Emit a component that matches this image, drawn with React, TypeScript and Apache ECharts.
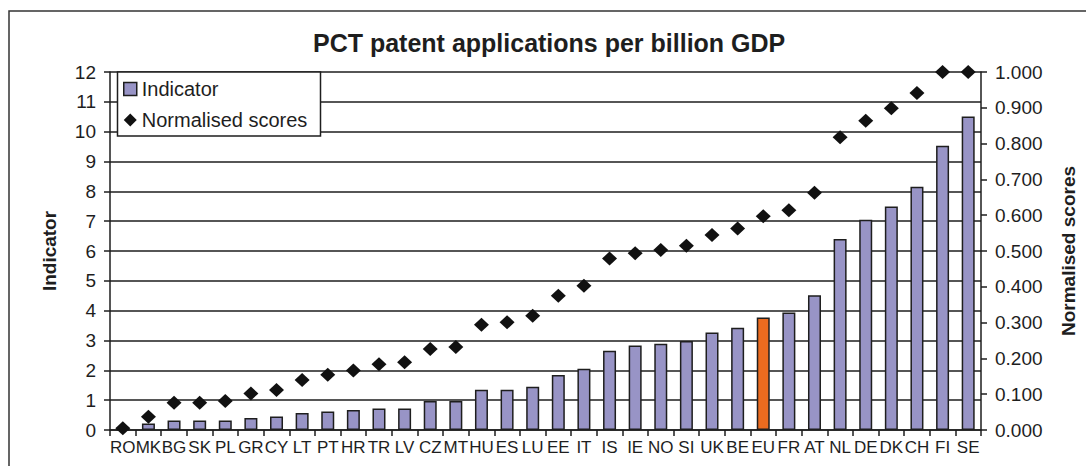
import React, { useEffect, useRef } from "react";
import * as echarts from "echarts";

const categories = ["RO","MK","BG","SK","PL","GR","CY","LT","PT","HR","TR","LV","CZ","MT","HU","ES","LU","EE","IT","IS","IE","NO","SI","UK","BE","EU","FR","AT","NL","DE","DK","CH","FI","SE"];
const indicator = [0.02,0.22,0.32,0.32,0.32,0.4,0.45,0.57,0.62,0.67,0.72,0.72,0.97,0.97,1.35,1.35,1.45,1.84,2.05,2.66,2.83,2.89,2.98,3.27,3.43,3.77,3.94,4.52,6.4,7.05,7.49,8.15,9.53,10.51];
const normalised = [0.005,0.037,0.076,0.076,0.081,0.102,0.112,0.14,0.154,0.166,0.184,0.189,0.226,0.232,0.294,0.301,0.319,0.375,0.403,0.479,0.494,0.503,0.515,0.545,0.563,0.597,0.614,0.663,0.818,0.864,0.899,0.941,1.0,1.0];
const leftTicks = { min: 0, max: 12, interval: 1 };
const rightTicks = { min: 0, max: 1, interval: 0.1 };
const highlight = "EU";

const FONT = "Liberation Sans, Arial, sans-serif";
const BAR = "#9894C6";
const ORANGE = "#EB6B1F";
const INK = "#1e1e1e";

export default function App() {
  const ref = useRef<HTMLDivElement>(null);
  useEffect(() => {
    if (!ref.current) return;
    const chart = echarts.init(ref.current, null, { renderer: "svg" });
    chart.setOption({
      animation: false,
      backgroundColor: "#ffffff",
      textStyle: { fontFamily: FONT, color: INK },
      title: {
        text: "PCT patent applications per billion GDP",
        left: 313,
        top: 30,
        padding: 0,
        textStyle: { fontFamily: FONT, fontSize: 25, fontWeight: "bold", color: INK },
      },
      graphic: [
        {
          type: "rect",
          shape: { x: 9, y: 11, width: 1200, height: 600 },
          style: { fill: "none", stroke: "#333", lineWidth: 1.5 },
          silent: true,
          z: 0,
        },
        {
          type: "rect",
          shape: { x: 117.5, y: 72, width: 203, height: 64 },
          style: { fill: "#fff", stroke: INK, lineWidth: 1.5 },
          silent: true,
          z: 9,
        },
      ],
      legend: {
        orient: "vertical",
        left: 123,
        top: 79,
        padding: 0,
        itemGap: 11,
        itemWidth: 13,
        itemHeight: 13,
        textStyle: { fontFamily: FONT, fontSize: 20, color: INK },
        z: 10,
        data: [
          { name: "Indicator", icon: "rect", itemStyle: { color: BAR, borderColor: INK, borderWidth: 1.5 } },
          { name: "Normalised scores", icon: "diamond", itemStyle: { color: "#111", borderWidth: 0, opacity: 1 } },
        ],
      },
      grid: { left: 110, right: 100, top: 72, bottom: 36, containLabel: false },
      xAxis: {
        type: "category",
        data: categories,
        boundaryGap: true,
        axisLine: { lineStyle: { color: INK, width: 1.5 } },
        axisTick: { show: true, length: 6, inside: false, lineStyle: { color: INK, width: 1.5 } },
        axisLabel: { interval: 0, fontSize: 17, color: INK, fontFamily: FONT, margin: 9 },
        splitLine: { show: false },
      },
      yAxis: [
        {
          type: "value",
          min: leftTicks.min,
          max: leftTicks.max,
          interval: leftTicks.interval,
          position: "left",
          name: "Indicator",
          nameLocation: "middle",
          nameRotate: 90,
          nameGap: 51,
          nameTextStyle: { fontFamily: FONT, fontSize: 19, fontWeight: "bold", color: INK },
          axisLine: { show: true, lineStyle: { color: INK, width: 1.5 } },
          axisTick: { show: true, length: 6, lineStyle: { color: INK, width: 1.5 } },
          axisLabel: { fontSize: 19, color: INK, fontFamily: FONT, margin: 14 },
          splitLine: { show: true, lineStyle: { color: INK, width: 1.5 } },
        },
        {
          type: "value",
          min: rightTicks.min,
          max: rightTicks.max,
          interval: rightTicks.interval,
          position: "right",
          name: "Normalised scores",
          nameLocation: "middle",
          nameRotate: 90,
          nameGap: 78,
          nameTextStyle: { fontFamily: FONT, fontSize: 19, fontWeight: "bold", color: INK },
          axisLine: { show: true, lineStyle: { color: INK, width: 1.5 } },
          axisTick: { show: true, length: 6, lineStyle: { color: INK, width: 1.5 } },
          axisLabel: {
            fontSize: 19,
            color: INK,
            fontFamily: FONT,
            margin: 14,
            formatter: (v: number) => v.toFixed(3),
          },
          splitLine: { show: false },
        },
      ],
      series: [
        {
          name: "Indicator",
          type: "bar",
          yAxisIndex: 0,
          barWidth: 13,
          z: 3,
          data: indicator.map((v, i) => ({
            value: v,
            itemStyle: { color: categories[i] === highlight ? ORANGE : BAR },
          })),
          itemStyle: { color: BAR, borderColor: INK, borderWidth: 1.5 },
        },
        {
          name: "Normalised scores",
          type: "scatter",
          yAxisIndex: 1,
          symbol: "diamond",
          symbolSize: [15, 14],
          z: 4,
          itemStyle: { color: "#111", opacity: 1 },
          data: normalised,
        },
      ],
    });
    return () => chart.dispose();
  }, []);
  return (
    <div
      ref={ref}
      style={{ position: "fixed", left: 0, top: 0, width: 1086, height: 466, background: "#fff" }}
    />
  );
}
